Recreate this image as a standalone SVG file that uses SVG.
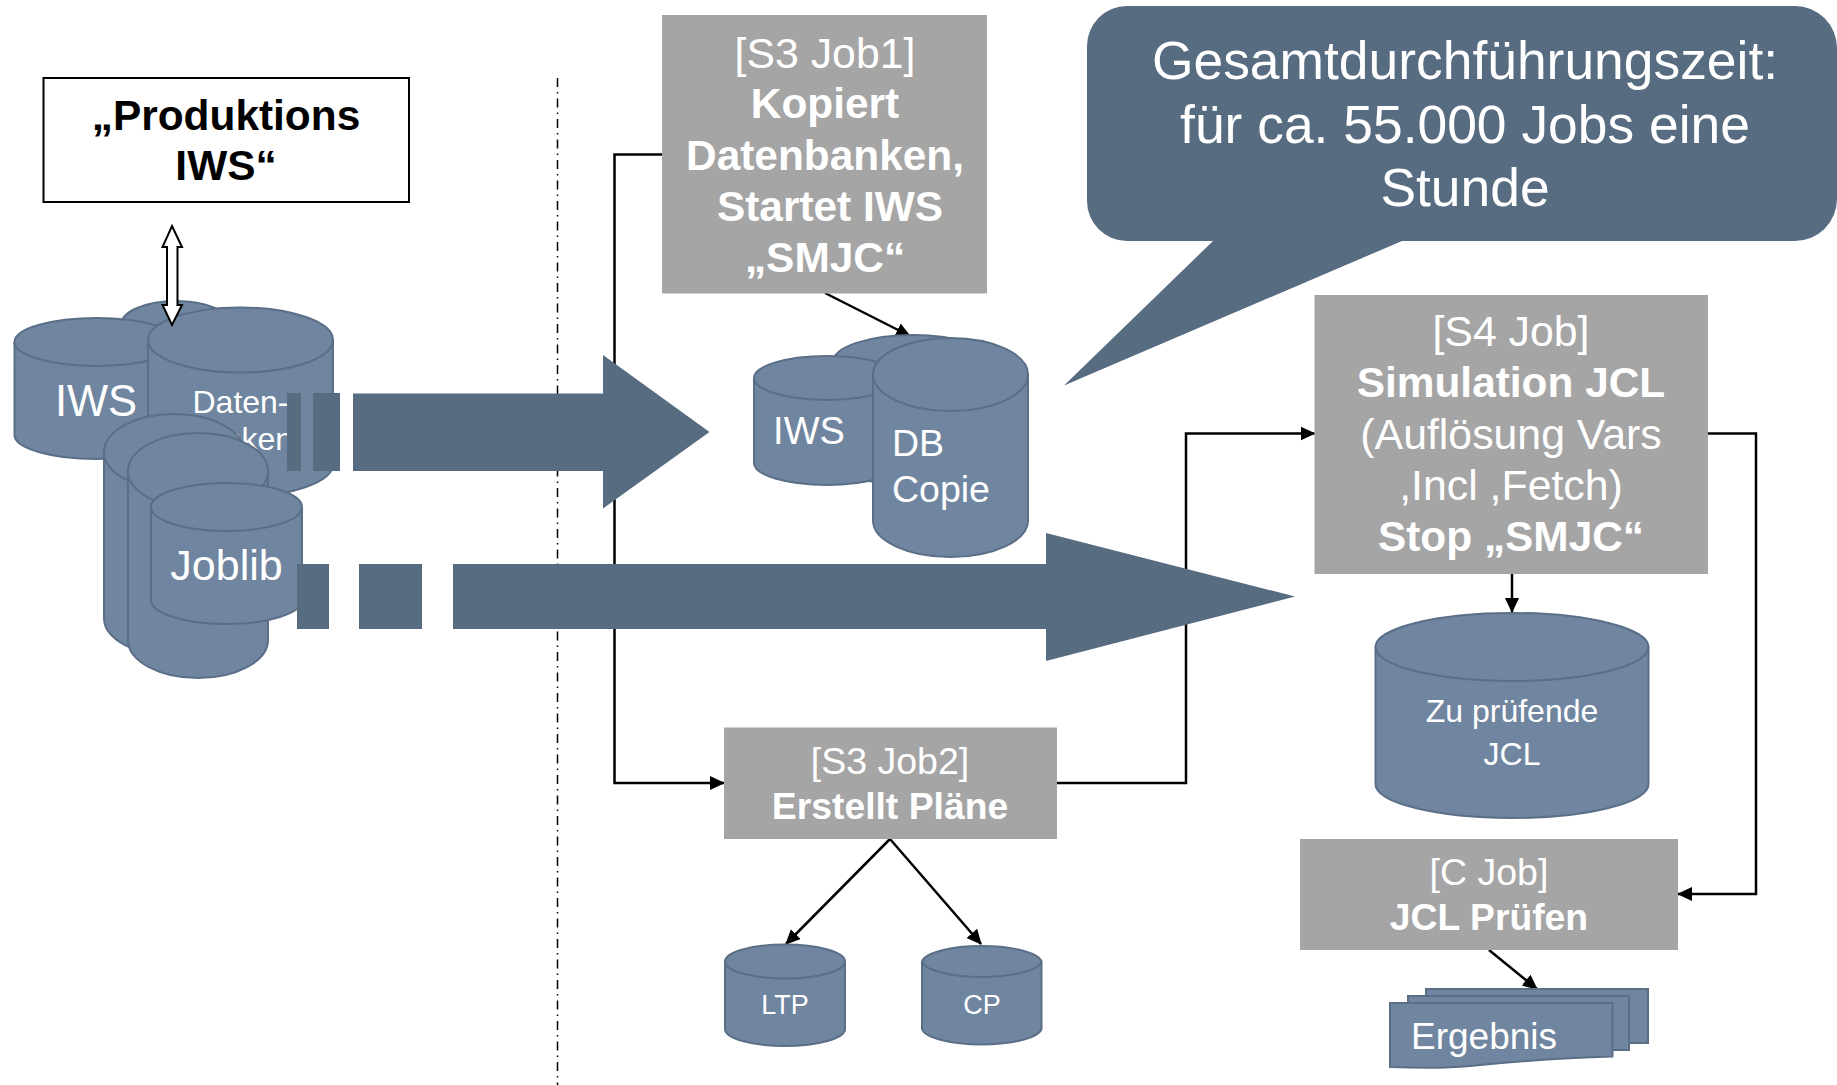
<svg xmlns="http://www.w3.org/2000/svg" width="1837" height="1085" viewBox="0 0 1837 1085">
<style>
text{font-family:"Liberation Sans",Arial,sans-serif;fill:#fff;text-anchor:middle}
.b{font-weight:bold;font-size:42.4px}
.l{text-anchor:start}
.k{fill:#000}
.cyl path{fill:#7086A0;stroke:#5A6E86;stroke-width:2}
.doc{fill:#7086A0;stroke:#5A6E86;stroke-width:2}
.box{fill:#A5A5A5}
.dark{fill:#576B81}
.c{fill:none;stroke:#000;stroke-width:2.5}
.f42{font-size:42.800px}.f37{font-size:37.500px}
.b.f37{font-size:37.300px}
</style>
<defs>
<marker id="a" markerUnits="userSpaceOnUse" markerWidth="16" markerHeight="16" refX="14" refY="8" orient="auto"><path d="M0 1L15 8L0 15Z" fill="#000"/></marker>
</defs>
<rect width="1837" height="1085" fill="#fff"/>

<g id="divider"><path d="M557.500 78V1085" fill="none" stroke="#000" stroke-width="1.500" stroke-dasharray="9 5 1.500 5"/></g>

<g id="connectors">
<path class="c" d="M662 154.500H614.500V783H724" marker-end="url(#a)"/>
<path class="c" d="M1057 783H1186V433.500H1314.500" marker-end="url(#a)"/>
<path class="c" d="M1708 433.500H1756V894H1678" marker-end="url(#a)"/>
<path class="c" d="M1512 574V612" marker-end="url(#a)"/>
<path class="c" d="M825 293L910 336" marker-end="url(#a)"/>
<path class="c" d="M890 839L786 944" marker-end="url(#a)"/>
<path class="c" d="M890 839L981 944" marker-end="url(#a)"/>
<path class="c" d="M1489 950L1537 989" marker-end="url(#a)"/>
</g>

<g id="produktions"><rect x="43.500" y="78" width="365.500" height="124" fill="#fff" stroke="#000" stroke-width="2"/>
<text class="b k" x="226" y="130">„Produktions</text><text class="b k" x="226" y="180">IWS“</text></g>

<g id="cyl-iws-left" class="cyl">
<path d="M121 325A55 24 0 0 1 231 325V440A55 24 0 0 1 121 440Z"/>
<path d="M14.500 342A82 24 0 0 1 178.500 342V435A82 24 0 0 1 14.500 435Z"/>
<path d="M14.500 342A82 24 0 0 0 178.500 342" fill="none"/>
<text x="96" y="416" font-size="43.500">IWS</text></g>

<g id="cyl-daten" class="cyl">
<path d="M148 340A92.500 32.500 0 0 1 333 340V464A92.500 32.500 0 0 1 148 464Z"/>
<path d="M148 340A92.500 32.500 0 0 0 333 340" fill="none"/>
<text x="240.500" y="413" font-size="32">Daten-</text><text x="240.500" y="450" font-size="32">banken</text></g>

<g id="double-arrow"><path d="M172 226L182 247H177.500V305H182L172 325L162.500 305H167V247H162.500Z" fill="#fff" stroke="#000" stroke-width="2"/></g>

<g id="cyl-joblib" class="cyl">
<path d="M104 452A70 38 0 0 1 244 452V618A70 38 0 0 1 104 618Z"/>
<path d="M104 452A70 38 0 0 0 244 452" fill="none"/>
<path d="M128 471A70 38 0 0 1 268 471V640A70 38 0 0 1 128 640Z"/>
<path d="M128 471A70 38 0 0 0 268 471" fill="none"/>
<path d="M151 507A75.500 24 0 0 1 302 507V600A75.500 24 0 0 1 151 600Z"/>
<path d="M151 507A75.500 24 0 0 0 302 507" fill="none"/>
<text x="226.500" y="580" font-size="43">Joblib</text></g>

<g id="cyl-s3-db" class="cyl">
<path d="M833 362A80 27 0 0 1 993 362V460A80 25 0 0 1 833 460Z"/>
<path d="M754 378A73 22 0 0 1 900 378V463A73 22 0 0 1 754 463Z"/>
<path d="M754 378A73 22 0 0 0 900 378" fill="none"/>
<text x="809" y="444" font-size="38">IWS</text>
<path d="M873 374.500A77.500 36.500 0 0 1 1028 374.500V520.500A77.500 36.500 0 0 1 873 520.500Z"/>
<path d="M873 374.500A77.500 36.500 0 0 0 1028 374.500" fill="none"/>
<text class="l" x="892" y="456" font-size="37.500">DB</text><text class="l" x="892" y="502" font-size="37.500">Copie</text></g>

<g id="arrow-top"><rect class="dark" x="287" y="393" width="14" height="78"/><rect class="dark" x="313" y="393" width="27" height="78"/><path class="dark" d="M353 393.500H603V355L709.500 432L603 508.500V471H353Z"/></g>
<g id="arrow-bottom"><rect class="dark" x="297" y="564" width="32" height="65"/><rect class="dark" x="359" y="564" width="63" height="65"/><path class="dark" d="M453 564H1046V533L1295 596.500L1046 661V629H453Z"/></g>

<g id="s3-job1"><rect class="box" x="662" y="15" width="325" height="278.500"/>
<text class="f42" x="825" y="68">[S3 Job1]</text><text class="b" x="825" y="118">Kopiert</text><text class="b" x="825" y="170">Datenbanken,</text><text class="b" x="830" y="221">Startet IWS</text><text class="b" x="825" y="272">„SMJC“</text></g>

<g id="callout"><path class="dark" d="M1127 6H1795A42 42 0 0 1 1837 48V199A42 42 0 0 1 1795 241H1402L1064 385.500L1213 241H1127A40 40 0 0 1 1087 201V46A40 40 0 0 1 1127 6Z"/>
<text x="1465" y="79" font-size="53.400">Gesamtdurchführungszeit:</text><text x="1465" y="143" font-size="53.400">für ca. 55.000 Jobs eine</text><text x="1465" y="206" font-size="53.400">Stunde</text></g>

<g id="s4-job"><rect class="box" x="1314.500" y="295" width="393.500" height="279"/>
<text class="f42" x="1511" y="346">[S4 Job]</text><text class="b" x="1511" y="397">Simulation JCL</text><text class="f42" x="1511" y="449">(Auflösung Vars</text><text class="f42" x="1511" y="500">,Incl ,Fetch)</text><text class="b" x="1511" y="551">Stop „SMJC“</text></g>

<g id="cyl-jcl" class="cyl"><path d="M1375.500 647A136.500 34 0 0 1 1648.500 647V784A136.500 34 0 0 1 1375.500 784Z"/>
<path d="M1375.500 647A136.500 34 0 0 0 1648.500 647" fill="none"/>
<text x="1512" y="722" font-size="32">Zu prüfende</text><text x="1512" y="765" font-size="32">JCL</text></g>

<g id="s3-job2"><rect class="box" x="724" y="727.500" width="333" height="111.500"/>
<text class="f37" x="890" y="774">[S3 Job2]</text><text class="b f37" x="890" y="819">Erstellt Pläne</text></g>

<g id="cyl-ltp" class="cyl"><path d="M725 961.500A60 17 0 0 1 845 961.500V1029A60 17 0 0 1 725 1029Z"/><path d="M725 961.500A60 17 0 0 0 845 961.500" fill="none"/>
<text x="785" y="1014" font-size="27">LTP</text></g>
<g id="cyl-cp" class="cyl"><path d="M922 961.500A60 17 0 0 1 1041.500 961.500V1029A60 17 0 0 1 922 1029Z"/><path d="M922 961.500A60 17 0 0 0 1041.500 961.500" fill="none"/>
<text x="982" y="1014" font-size="27">CP</text></g>

<g id="c-job"><rect class="box" x="1300" y="839" width="378" height="111"/>
<text class="f37" x="1489" y="885">[C Job]</text><text class="b f37" x="1489" y="930">JCL Prüfen</text></g>

<g id="ergebnis"><rect class="doc" x="1426" y="989" width="222" height="54"/><rect class="doc" x="1408" y="996" width="221" height="54"/>
<path class="doc" d="M1390 1003H1612.500V1056.500C1560 1058 1510 1062 1470 1066C1440 1069 1415 1068 1390 1067Z"/>
<text class="l" x="1411" y="1049" font-size="37">Ergebnis</text></g>
</svg>
